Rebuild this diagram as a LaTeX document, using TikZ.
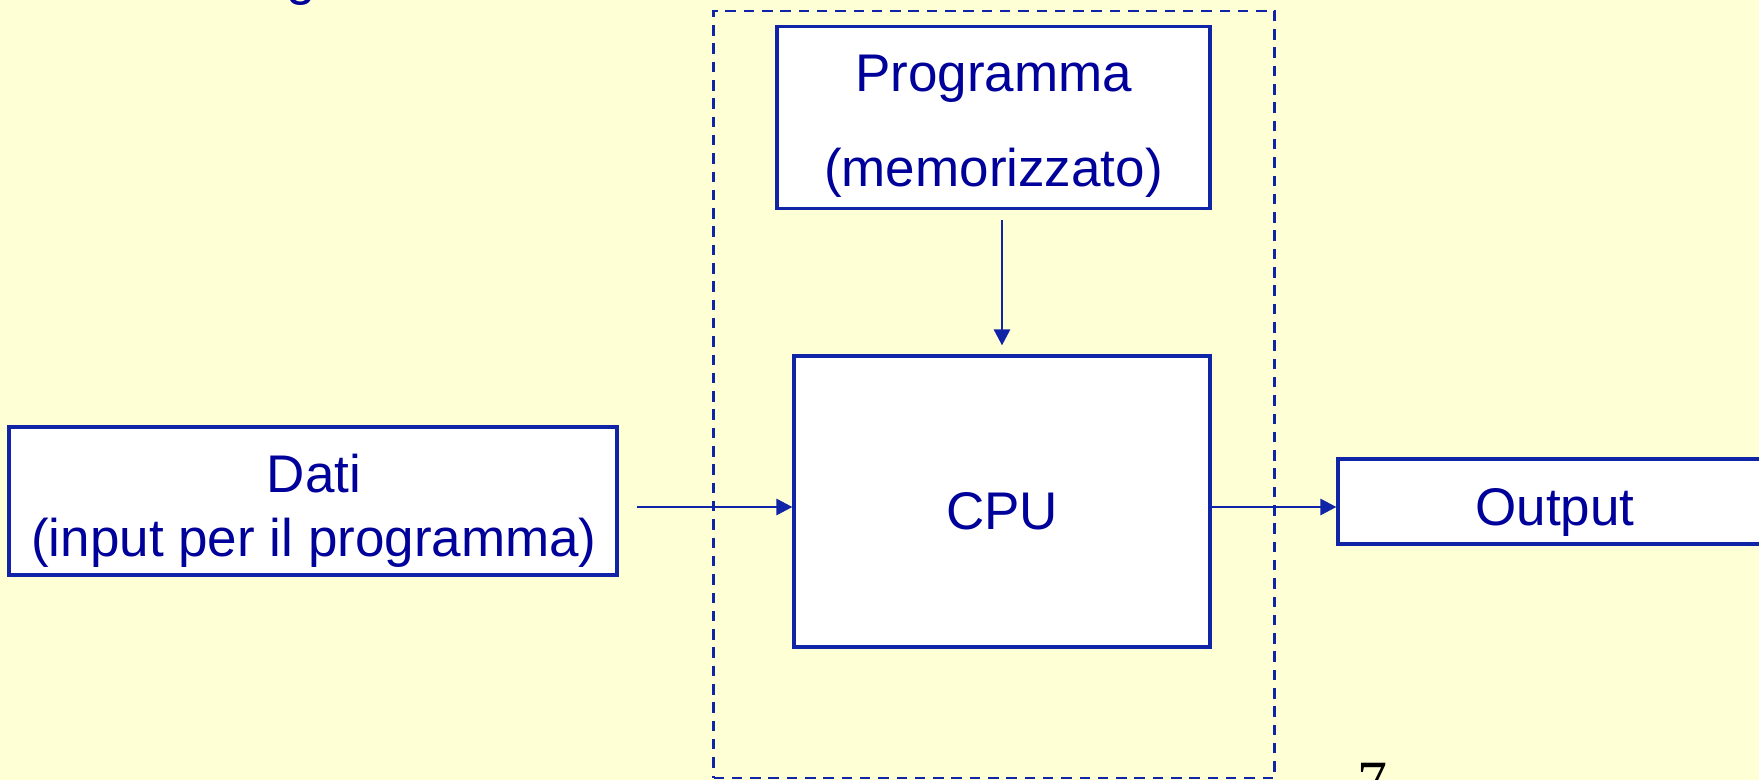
\documentclass[tikz,border=0pt]{standalone}
\usepackage{fontspec}
\setmainfont{Liberation Sans}
\newfontfamily\serifnum{Liberation Serif}
\usetikzlibrary{arrows.meta}
\definecolor{bg}{HTML}{FFFFD6}
\definecolor{edge}{HTML}{1024A8}
\definecolor{ink}{HTML}{00009A}
\begin{document}
\begin{tikzpicture}[x=0.5pt,y=-0.5pt,
  box/.style={draw=edge, line width=1.6pt, fill=white, inner sep=0pt},
  txt/.style={text=ink, align=center, inner sep=0pt, font=\fontsize{26.5}{32}\selectfont},
  arr/.style={draw=edge, line width=1.4pt, -{Triangle[length=8pt,width=8pt]}},
  groupframe/.style={draw=edge, line width=1.3pt, dash pattern=on 5.25pt off 3.9pt, inner sep=0pt}]
% page background
\fill[bg] (0,0) rectangle (1759,780);
\useasboundingbox (0,0) rectangle (1759,780);

% title fragment and page number
\node[text=ink, font=\fontsize{26.5}{30}\selectfont, anchor=base, inner sep=0pt] (gfrag) at (301,-5) {g};
\node[font=\serifnum\fontsize{30}{34}\selectfont, anchor=base west, inner sep=0pt] (pagenum) at (1357,802) {7};

% dashed group around program and CPU
\node[groupframe, minimum width=280.5pt, minimum height=383.5pt] (grp) at (994,394.5) {};

% blocks
\node[box, minimum width=216.5pt, minimum height=91pt] (prog) at (993.5,117.5) {};
\node[box, minimum width=208pt, minimum height=145.5pt] (cpu) at (1002,501.5) {};
\node[box, minimum width=304pt, minimum height=74pt] (dati) at (313,501) {};
\node[box, minimum width=217pt, minimum height=42.5pt] (out) at (1555,501.5) {};

% block texts
\node[txt, font=\fontsize{26.5}{47.5}\selectfont] (progtxt) at ([yshift=-4.25pt]prog.center) {Programma\\(memorizzato)};
\node[txt] (cputxt) at ([yshift=-5pt]cpu.center) {CPU};
\node[txt] (datitxt) at ([xshift=0.5pt,yshift=-5pt]dati.center) {Dati\\(input per il programma)};
\node[txt] (outtxt) at ([yshift=-5.5pt]out.center) {Output};

% connectors
\coordinate (lev) at (0,507);
\coordinate (datiout) at ([xshift=9pt]dati.east);
\coordinate (progout) at ([yshift=-5pt]prog.south -| cpu.north);
\draw[arr] (datiout |- lev) -- (cpu.west |- lev);
\draw[arr] (cpu.east |- lev) -- (out.west |- lev);
\draw[arr] (progout) -- ([yshift=4.5pt]cpu.north);
\end{tikzpicture}
\end{document}
